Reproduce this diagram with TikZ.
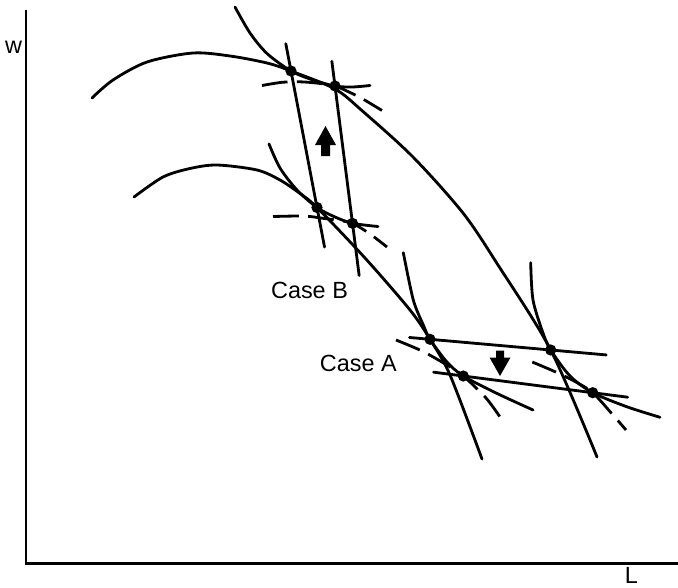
\documentclass[tikz,border=0pt]{standalone}
\usepackage{fontspec}
\setmainfont{Liberation Sans}
\usetikzlibrary{calc}

\begin{document}
\begin{tikzpicture}[x=0.015cm, y=-0.015cm, font=\fontsize{10}{12}\selectfont,
  curve/.style={line width=1.2pt, line cap=round},
  dashcurve/.style={line width=1.2pt, dash pattern=on 11pt off 4pt},
  shiftarrow/.style={fill=black},
  dot/.style={fill=black}]
  \useasboundingbox (0,0) rectangle (678,587);
  % axes
  \coordinate (O) at (26,563.5);
  \draw[line width=1pt] (26,10) -- (O) -- (678,563.5);
  \node (w) at (13.7,47.5) {w};
  \node (L) at (631.3,575) {L};
  % points
  \coordinate (B1) at (291,71);    \coordinate (B2) at (335,86);
  \coordinate (B3) at (317,207.5); \coordinate (B4) at (352.5,223.3);
  \coordinate (A1) at (430,339.3); \coordinate (A2) at (463.3,376);
  \coordinate (A3) at (550.7,350); \coordinate (A4) at (592.7,392.7);
  % humps
  \draw[curve] plot[smooth] coordinates {(92,98) (113,80) (147,62) (193,53) (230,56) (267,63) (B1)
    (335,89) (363,111.5) (413,157) (463,213) (498,265) (A3) (597,457)};
  \draw[curve] plot[smooth] coordinates {(134,197) (163,177) (190,168.5) (217,165) (257,170) (280,180)
    (300,193.5) (B3) (365,258) (410,310) (A1) (450,375) (482,459)};
  % steep curves
  \draw[curve] plot[smooth] coordinates {(235,7) (250,33) (267,53.5) (B1) (313,80) (B2) (352,87) (370,85.5)};
  \draw[curve] plot[smooth] coordinates {(269,144) (280,168) (297,190) (B3) (335,217) (B4) (378,226.5)};
  \draw[curve] plot[smooth] coordinates {(403.3,252.7) (413.3,300) (423.3,325) (A1) (446.7,361.7) (A2)
    (496.7,393.3) (533,410)};
  \draw[curve] plot[smooth] coordinates {(530.7,262.7) (533,300) (543,333) (A3) (570,376) (A4)
    (626.7,406.7) (660,417.3)};
  % dashed curves
  \draw[dashcurve] plot[smooth] coordinates {(262,85.5) (282,82.3) (300,81.8) (318,83.2) (B2) (350,92.5)
    (362,98.5) (382,110.5)};
  \draw[dashcurve] plot[smooth] coordinates {(273,216.5) (298,216) (310,216.5) (323,218.3) (338,220.3) (B4)
    (370,234) (387,247)};
  \draw[dashcurve] plot[smooth] coordinates {(396,340) (422,351) (447,365) (A2) (486,398) (500,417)};
  \draw[dashcurve] plot[smooth] coordinates {(532.3,362) (555,371.7) (575,381.5) (A4) (613,415) (626,430)};
  % Case B and Case A lines
  \draw[curve] ($(B1)!-0.2!(B3)$) -- ($(B3)!-0.29!(B1)$);
  \draw[curve] ($(B2)!-0.18!(B4)$) -- ($(B4)!-0.38!(B2)$);
  \draw[curve] ($(A1)!-0.17!(A3)$) -- ($(A3)!-0.46!(A1)$);
  \draw[curve] ($(A2)!-0.23!(A4)$) -- ($(A4)!-0.27!(A2)$);
  % shifts
  \fill[shiftarrow] (321,156) -- (321,145) -- (315,145) -- (325.5,126) -- (336,145) -- (330,145) -- (330,156) -- cycle;
  \fill[shiftarrow] (496,350.5) -- (504,350.5) -- (504,357.5) -- (510.5,357.5) -- (500,376) -- (489.5,357.5)
    -- (496,357.5) -- cycle;
  \foreach \p in {B1,B2,B3,B4,A1,A2,A3,A4}
    \fill[dot] (\p) circle (2.4pt);
  \node (caseB) at (309.5,290) {Case B};
  \node (caseA) at (358.4,363.2) {Case A};
\end{tikzpicture}
\end{document}
